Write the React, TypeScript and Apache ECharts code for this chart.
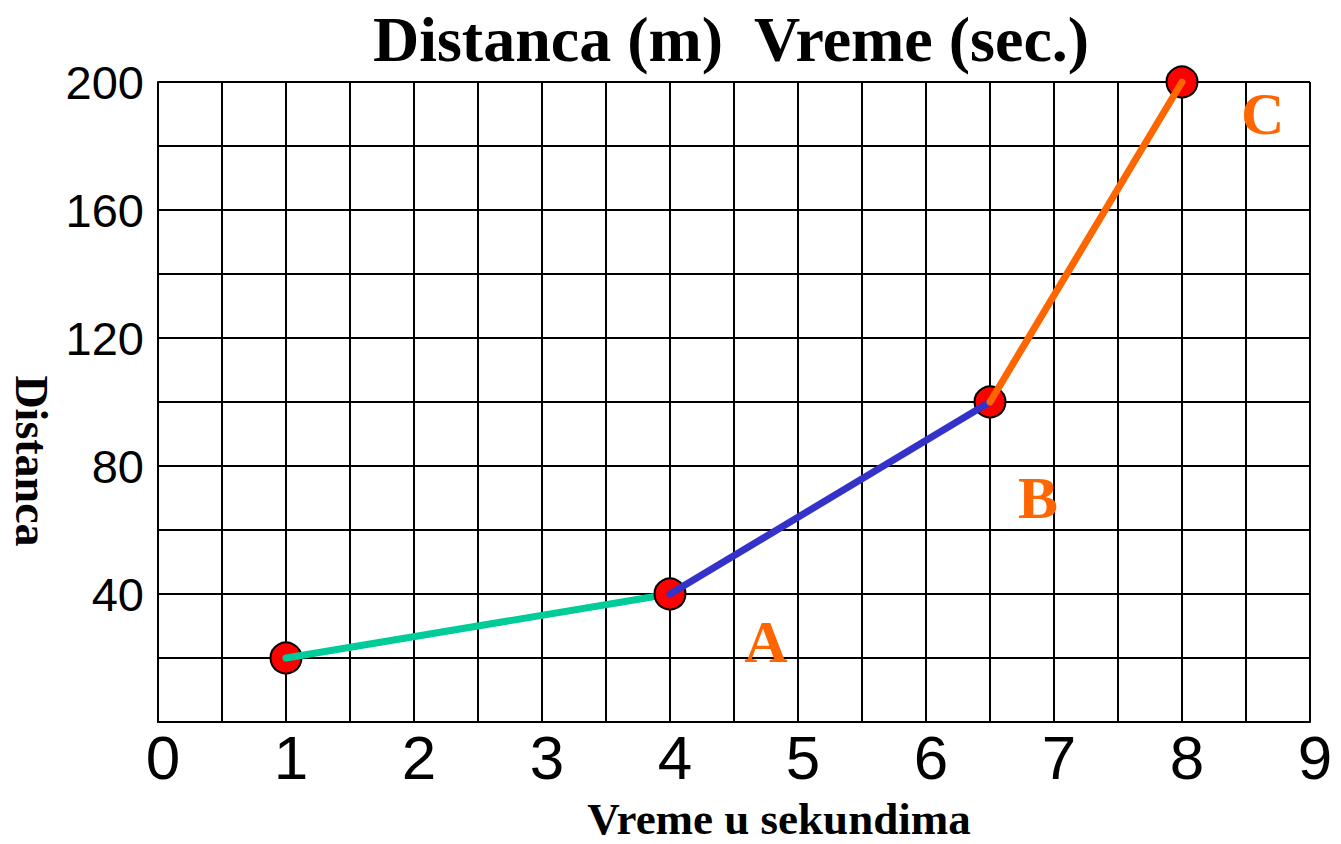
import React, { useEffect, useRef } from "react";
import * as echarts from "echarts";

const titleText = "Distanca (m)  Vreme (sec.)";
const xAxisName = "Vreme u sekundima";
const yAxisName = "Distanca";

// points [time, distance]
const points: [number, number][] = [
  [1, 20],
  [4, 40],
  [6.5, 100],
  [8, 200],
];
const greenSegment: [number, number][] = [points[0], points[1]];
const blueSegment: [number, number][] = [points[1], points[2]];
const orangeSegment: [number, number][] = [points[2], points[3]];

// letter labels [x, y, text]
const letterLabels: [number, number, string][] = [
  [4.75, 25, "A"],
  [6.875, 70, "B"],
  [8.63, 190, "C"],
];

const xMin = 0;
const xMax = 9;
const yMin = 0;
const yMax = 200;

export default function App() {
  const ref = useRef<HTMLDivElement>(null);
  useEffect(() => {
    if (!ref.current) return;
    const chart = echarts.init(ref.current, undefined, { renderer: "svg" });
    const serif = "'Liberation Serif', 'Times New Roman', serif";
    const sans = "'Liberation Sans', Arial, Helvetica, sans-serif";
    const pointStyle = {
      type: "scatter",
      symbol: "circle",
      symbolSize: 31,
      itemStyle: { color: "#FF0000", borderColor: "#000", borderWidth: 2, opacity: 1 },
      silent: true,
    };
    const lineBase = (color: string, data: [number, number][]) => ({
      type: "line",
      data,
      symbol: "none",
      lineStyle: { color, width: 7, cap: "round" },
      silent: true,
    });
    chart.setOption({
      animation: false,
      backgroundColor: "#fff",
      title: {
        text: titleText,
        left: 726,
        top: 2,
        textAlign: "center",
        textStyle: { fontFamily: serif, fontWeight: "bold", fontSize: 64, color: "#000" },
      },
      grid: { left: 158, right: 31, top: 82, bottom: 122 },
      xAxis: {
        type: "value",
        min: xMin,
        max: xMax,
        interval: 0.5,
        axisLine: { show: true, lineStyle: { color: "#000", width: 2 } },
        axisTick: { show: false },
        splitLine: { show: true, lineStyle: { color: "#000", width: 2 } },
        axisLabel: {
          color: "#000",
          fontFamily: sans,
          fontSize: 62,
          margin: 4,
          padding: [0, 0, 0, 10],
          formatter: (v: number) => (Number.isInteger(v) ? String(v) : ""),
        },
      },
      yAxis: {
        type: "value",
        min: yMin,
        max: yMax,
        interval: 20,
        axisLine: { show: true, lineStyle: { color: "#000", width: 2 } },
        axisTick: { show: false },
        splitLine: { show: true, lineStyle: { color: "#000", width: 2 } },
        axisLabel: {
          color: "#000",
          fontFamily: sans,
          fontSize: 47,
          margin: 14,
          padding: [0, 0, 14, 0],
          formatter: (v: number) => (v !== 0 && v % 40 === 0 ? String(v) : ""),
        },
      },
      graphic: [
        {
          type: "text",
          x: 779,
          y: 819,
          style: {
            text: xAxisName,
            font: `bold 45px ${serif}`,
            fill: "#000",
            align: "center",
            verticalAlign: "middle",
          },
        },
        {
          type: "text",
          x: 31,
          y: 461,
          rotation: -Math.PI / 2,
          style: {
            text: yAxisName,
            font: `bold 46px ${serif}`,
            fill: "#000",
            align: "center",
            verticalAlign: "middle",
          },
        },
      ],
      series: [
        { ...pointStyle, data: [points[0], points[2], points[3]], z: 2 },
        { ...lineBase("#00CC99", greenSegment), z: 3 },
        { ...pointStyle, data: [points[1]], z: 4 },
        { ...lineBase("#3333CC", blueSegment), z: 5 },
        { ...lineBase("#FF6600", orangeSegment), z: 6 },
        {
          type: "scatter",
          data: letterLabels.map((d) => ({ value: [d[0], d[1]], name: d[2] })),
          symbolSize: 1,
          itemStyle: { color: "rgba(0,0,0,0)" },
          z: 7,
          silent: true,
          label: {
            show: true,
            position: "inside",
            formatter: (p: any) => p.name,
            color: "#FF6600",
            opacity: 1,
            textBorderWidth: 0,
            textBorderColor: "transparent",
            fontFamily: serif,
            fontWeight: "bold",
            fontSize: 60,
          },
        },
      ],
    });
    return () => chart.dispose();
  }, []);
  return (
    <div
      ref={ref}
      style={{ position: "fixed", left: 0, top: 0, width: 1341, height: 844, background: "#fff" }}
    />
  );
}
